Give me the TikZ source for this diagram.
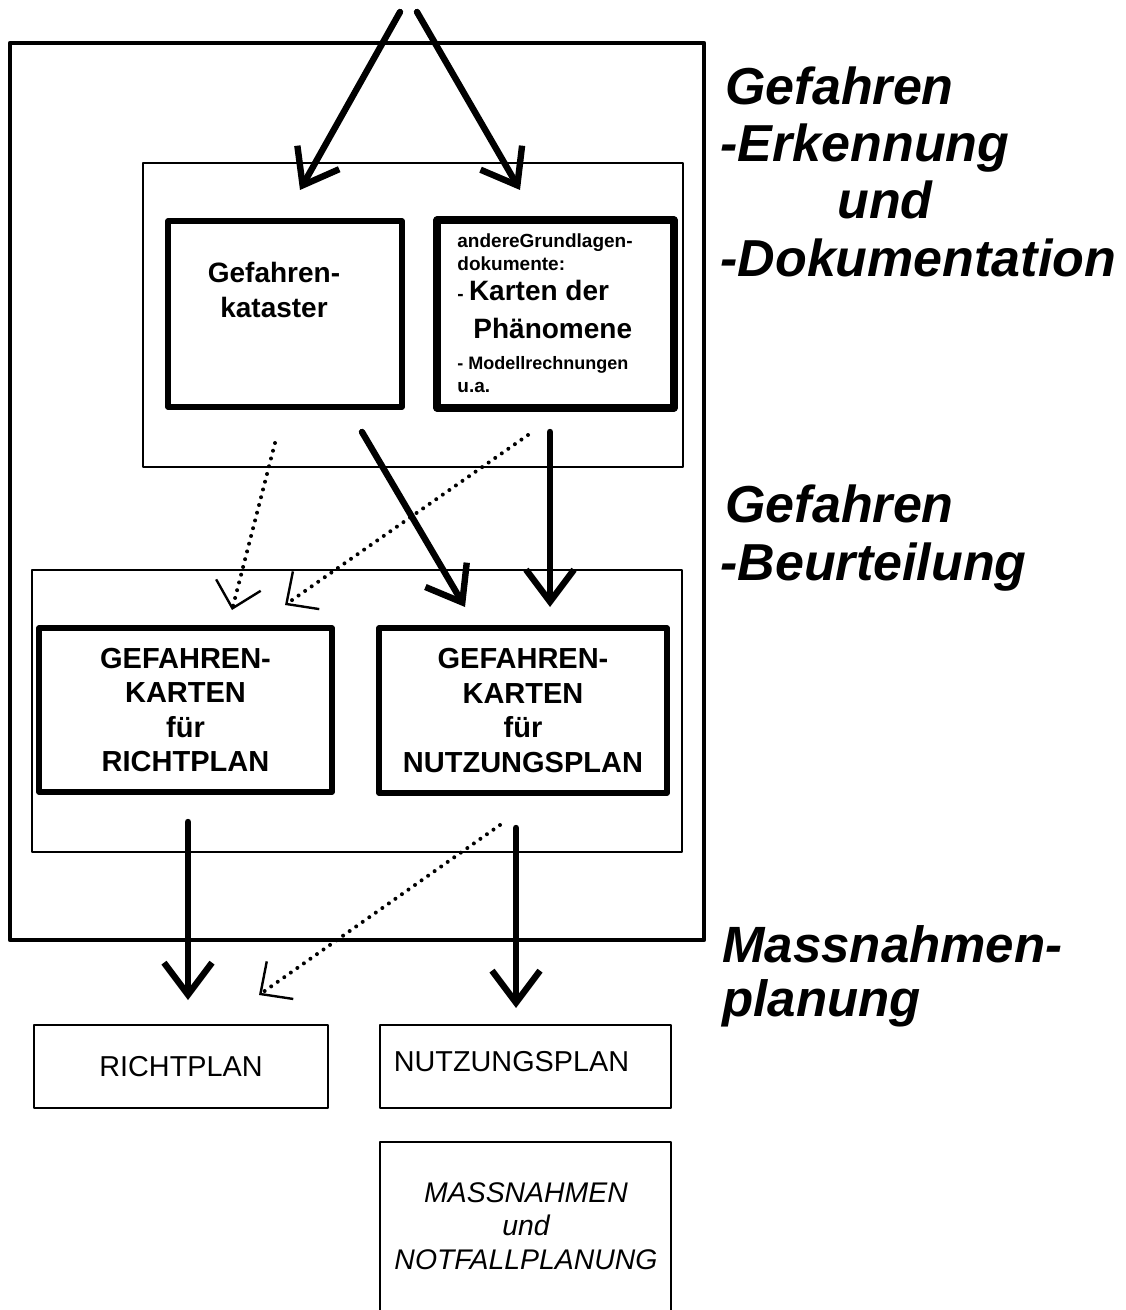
\documentclass[tikz,border=0pt]{standalone}
\usepackage{fontspec}
\setmainfont{Liberation Sans}
\usetikzlibrary{arrows.meta}

\begin{document}
\begin{tikzpicture}[line cap=round,line join=round,x=0.5pt,y=-0.5pt,
  thinbox/.style={draw,line width=0.7pt,inner sep=0pt,outer sep=0pt},
  heavybox/.style={draw,line width=2.6pt,inner sep=0pt,outer sep=0pt},
  heavyarrow/.style={line width=3.2pt,-{Straight Barb[length=16pt,width=24pt]}},
  dotarrow/.style={line width=2pt,dash pattern=on 0pt off 4pt,-{Straight Barb[length=12pt,width=23pt,line width=1.2pt]}},
  sidelabel/.style={anchor=base west,inner sep=0pt,font=\fontsize{26}{28}\selectfont\bfseries\itshape},
  doktext/.style={anchor=base west,inner sep=0pt,font=\fontsize{9.5}{11}\selectfont\bfseries},
  kartetext/.style={align=center,inner sep=0pt,font=\fontsize{14.5}{17.2}\selectfont\bfseries},
  plantext/.style={align=center,inner sep=0pt,font=\fontsize{14.4}{16.8}\selectfont}]
\useasboundingbox (0,0) rectangle (1125,1310);
\clip (0,0) rectangle (1125,1310);

% frames
\node[draw,line width=2.2pt,inner sep=0pt,minimum width=347pt,minimum height=448.5pt] (rahmen) at (357,491.5) {};
\node[thinbox,minimum width=270pt,minimum height=152pt] (erkennung) at (413,315) {};
\node[thinbox,minimum width=325pt,minimum height=141pt] (beurteilung) at (357,711) {};

% Gefahrenerkennung
\node[heavybox,minimum width=117pt,minimum height=93pt] (kataster) at (285,314) {};
\node[kartetext,font=\fontsize{14}{17.5}\selectfont\bfseries] (katastertext) at (274,290) {Gefahren-\\kataster};
\node[heavybox,line width=3.6pt,minimum width=118.5pt,minimum height=94pt] (grundlagen) at (555.5,314) {};
\draw (457,248) node[doktext] (dok1) {andereGrundlagen-};
\draw (457,271) node[doktext] (dok2) {dokumente:};
\draw (457,301) node[doktext] (dok3) {- {\fontsize{14}{16}\selectfont Karten der}};
\draw (473,338) node[doktext,font=\fontsize{14}{16}\selectfont\bfseries] (dok4) {Phänomene};
\draw (457,369) node[doktext,font=\fontsize{9}{11}\selectfont\bfseries] (dok5) {- Modellrechnungen};
\draw (457,392) node[doktext] (dok6) {u.a.};

% Gefahrenkarten
\node[heavybox,minimum width=146.5pt,minimum height=82pt,kartetext] (karteRP) at (185.5,710) {GEFAHREN-\\KARTEN\\für\\RICHTPLAN};
\node[heavybox,minimum width=144pt,minimum height=82.5pt,kartetext] (karteNP) at (523,710.5) {GEFAHREN-\\KARTEN\\für\\NUTZUNGSPLAN};

% Plaene
\node[thinbox,minimum width=147pt,minimum height=41.5pt,plantext] (richtplan) at (181,1066.5) {RICHTPLAN};
\node[thinbox,minimum width=145.5pt,minimum height=41.5pt] (nutzungsplan) at (525.5,1066.5) {};
\node[plantext] (nutzungtext) at (511.5,1061.5) {NUTZUNGSPLAN};
\node[thinbox,minimum width=145.5pt,minimum height=94pt] (massnahmen) at (525.5,1236) {};
\node[plantext,font=\fontsize{14.2}{16.75}\selectfont\itshape] (massnahmentext) at (526,1226) {MASSNAHMEN\\und\\NOTFALLPLANUNG};

% Stufen rechts
\draw (725,105) node[sidelabel] (stufe1a) {Gefahren};
\draw (720,162) node[sidelabel] (stufe1b) {-Erkennung};
\draw (837,219) node[sidelabel] (stufe1c) {und};
\draw (720,277) node[sidelabel] (stufe1d) {-Dokumentation};
\draw (725,522) node[sidelabel] (stufe2a) {Gefahren};
\draw (720,580) node[sidelabel] (stufe2b) {-Beurteilung};
\draw (722,962) node[sidelabel,font=\fontsize{25.5}{28}\selectfont\bfseries\itshape] (stufe3a) {Massnahmen-};
\draw (722,1016) node[sidelabel,font=\fontsize{25.5}{28}\selectfont\bfseries\itshape] (stufe3b) {planung};

% arrow ends
\coordinate (quelleL) at (400,12);
\coordinate (quelleR) at (417,12);
\coordinate (zielL) at (300,190);
\coordinate (zielR) at (520,190);
\coordinate (k1) at (275,443);
\coordinate (k1z) at (232,610);
\coordinate (g1) at (528,435);
\coordinate (g1z) at (285,605);
\coordinate (k2) at (362,432);
\coordinate (k2z) at (465,607);
\coordinate (g2) at (550,432);
\coordinate (g2z) at (550,607);
\coordinate (r1) at (188,822);
\coordinate (r1z) at (188,1000);
\coordinate (n1) at (500,825);
\coordinate (n1z) at (259,995);
\coordinate (n2) at (516,828);
\coordinate (n2z) at (516,1008);

\draw[heavyarrow] (quelleL) -- (zielL);
\draw[heavyarrow] (quelleR) -- (zielR);
\draw[dotarrow] (k1) -- (k1z);
\draw[dotarrow] (g1) -- (g1z);
\draw[heavyarrow] (k2) -- (k2z);
\draw[heavyarrow] (g2) -- (g2z);
\draw[heavyarrow] (r1) -- (r1z);
\draw[dotarrow] (n1) -- (n1z);
\draw[heavyarrow] (n2) -- (n2z);
\end{tikzpicture}
\end{document}
